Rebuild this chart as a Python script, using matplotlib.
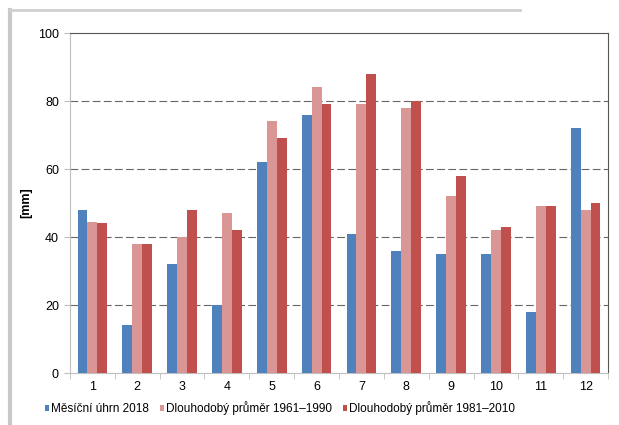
import numpy as np
import matplotlib.pyplot as plt
from matplotlib.lines import Line2D
from matplotlib.ticker import FixedLocator

plt.rcParams['font.family'] = ['Liberation Sans', 'DejaVu Sans']

# data
mesice = ['1', '2', '3', '4', '5', '6', '7', '8', '9', '10', '11', '12']
uhrn_2018 = [48, 14, 32, 20, 62, 76, 41, 36, 35, 35, 18, 72]
prumer_1961_1990 = [44.5, 38, 40, 47, 74, 84, 79, 78, 52, 42, 49, 48]
prumer_1981_2010 = [44, 38, 48, 42, 69, 79, 88, 80, 58, 43, 49, 50]
popisky = ['Měsíční úhrn 2018', 'Dlouhodobý průměr 1961–1990', 'Dlouhodobý průměr 1981–2010']
barvy = ['#4F81BD', '#D99694', '#C0504D']

fig = plt.figure(figsize=(6.19, 4.25), dpi=100)
ax = fig.add_axes([70/619, 1-373/425, 538/619, 340/425])

x = np.arange(len(mesice))
w = 0.22
for i, (vals, lab, c) in enumerate(zip([uhrn_2018, prumer_1961_1990, prumer_1981_2010], popisky, barvy)):
    ax.bar(x + (i - 1) * w, vals, w, color=c, label=lab, zorder=3)

ax.set_xlim(-0.5, 11.5)
ax.set_ylim(0, 100)
ax.set_yticks([0, 20, 40, 60, 80, 100])
ax.set_xticks(x)
ax.set_xticklabels(mesice)
ax.xaxis.set_minor_locator(FixedLocator(np.arange(-0.5, 12, 1)))
ax.tick_params(axis='x', which='major', length=0, pad=6, labelsize=9)
ax.tick_params(axis='x', which='minor', length=4, color='#bfbfbf')
ax.tick_params(axis='y', length=4, color='#bfbfbf', labelsize=9, pad=4)

for yv in [20, 40, 60, 80]:
    ax.axhline(yv, color='#666666', lw=0.8, ls=(0, (7, 3)), zorder=1)

ax.spines['left'].set_color('#bfbfbf')
ax.spines['bottom'].set_color('#bfbfbf')
ax.spines['top'].set_color('#555555')
ax.spines['right'].set_color('#555555')
ax.spines['top'].set_linewidth(0.8)
ax.spines['right'].set_linewidth(0.8)

ax.set_ylabel('[mm]', fontsize=9, fontweight='bold', labelpad=12)
ax.yaxis.set_label_coords(-38/538, 0.5)

# okraj
fig.add_artist(Line2D([10/619, 10/619], [0, 1-10/425], color='#c8c8c8', lw=3, transform=fig.transFigure))
fig.add_artist(Line2D([10/619, 520/619], [1-10/425, 1-10/425], color='#d0d0d0', lw=2, transform=fig.transFigure))

fig.legend(loc='center', bbox_to_anchor=(280/619, 1-408/425), ncol=3, frameon=False,
           fontsize=8.5, handlelength=0.35, handleheight=0.35, handletextpad=0.2,
           columnspacing=0.9)

fig.savefig('out.png', dpi=100)
